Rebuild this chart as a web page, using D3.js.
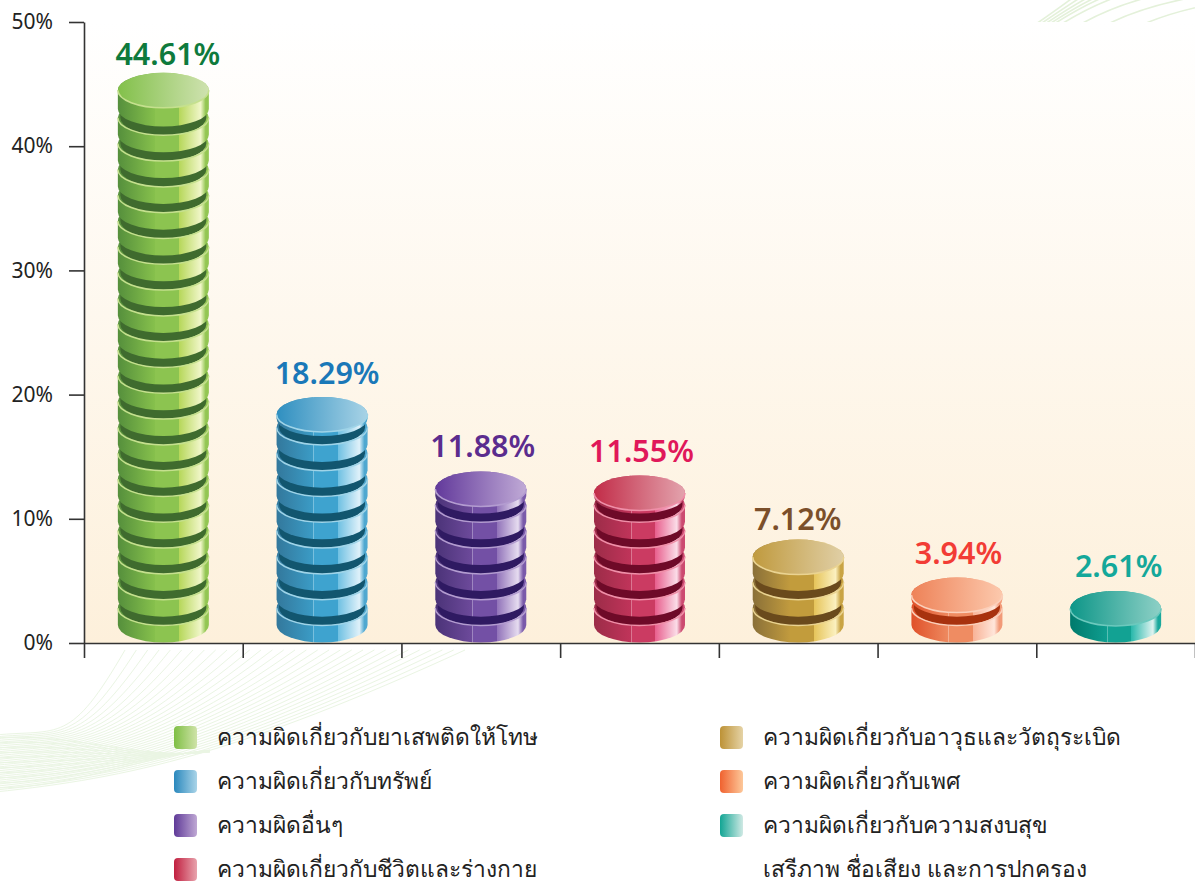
<!DOCTYPE html>
<html><head><meta charset="utf-8">
<script src="https://cdn.jsdelivr.net/npm/d3@7/dist/d3.min.js"></script>
<style>html,body{margin:0;padding:0;background:#fff;overflow:hidden}svg{display:block}
text{font-family:"Noto Sans","Open Sans",sans-serif}</style></head><body>
<svg id="c" width="1195" height="882"></svg>
<script>
// ---- data ----
const categories = ["ความผิดเกี่ยวกับยาเสพติดให้โทษ","ความผิดเกี่ยวกับทรัพย์","ความผิดอื่นๆ","ความผิดเกี่ยวกับชีวิตและร่างกาย","ความผิดเกี่ยวกับอาวุธและวัตถุระเบิด","ความผิดเกี่ยวกับเพศ","ความผิดเกี่ยวกับความสงบสุข"];
const extraLegendLine = "เสรีภาพ ชื่อเสียง และการปกครอง";
const values = [44.61,18.29,11.88,11.55,7.12,3.94,2.61];
// height of each stack's top face (the drawing is not exactly to scale)
const drawnLevels = [44.5,18.4,12.4,12.08,6.92,3.86,2.78];
const yTicks = [0,10,20,30,40,50];
const labelColors = ["#0e7a3c","#1a78b8","#5b2c8e","#e0185a","#7b4f2a","#f23c35","#14a89a"];
const topLeft = ["#82c04a","#2f8fc0","#62399b","#c22c48","#c09a3e","#ee8258","#0d9688"];
const topRight = ["#cfe2b0","#a8d3e6","#c0aad6","#e3a3ad","#e0cfa6","#fcc9ad","#8ed0c6"];
const sideDark = ["#558f3c","#33789c","#4b3378","#9c2c48","#8a7038","#e0512a","#007a6c"];
const sideMid = ["#86c04c","#3b9cc6","#6d4a9b","#c0345a","#c09a3e","#ee8a60","#0f9e90"];
const sideFlat = ["#8cc450","#3ea3cf","#7350a5","#cb3b62","#c29c3c","#ef8c62","#12a293"];
const sideStep = ["#b6d75a","#6ec0e2","#8f70b8","#e8608e","#e6c45a","#f8b296","#2bb9ac"];
const sideShine = ["#f0f6c8","#dff1fa","#e6dcf0","#fbdde8","#fbf0bf","#ffe6da","#dff3f0"];
const sideEnd = ["#93c653","#4fa8d0","#7a5aaa","#cc4a70","#c9a444","#f29a78","#1aa89c"];
const gapColors = ["#3f6b2e","#12566f","#2f1a62","#6e0a28","#6a4a1c","#a8320e","#0a6a5e"];
const rimColors = ["#c5e08e","#9fd4e8","#b39cd0","#ef8fa8","#ead391","#fbd0bb","#6cc9bd"];
const swatchLeft = ["#7fbf45","#2a88bd","#5f3a98","#c11f3f","#bd9236","#f0622f","#12a594"];
const swatchRight = ["#cfe3a8","#a9d4e8","#bfa8d4","#e8a3ad","#e5d3a6","#fdc89a","#cfe9e4"];

// ---- layout ----
const W=1195,H=882,plotL=84,plotR=1195,plotT=22,plotB=643;
const labelGaps=[8,13,14,13,10,14,14];
const labelShifts=[4.5,5,2,2,-0.5,1.5,3];
const rx=45.5, ry=17.5, coinH=17, pitch=25.8, base=642.5;

const svg=d3.select("#c");
const defs=svg.append("defs");
const y=d3.scaleLinear().domain([0,50]).range([plotB,plotT]);
const x=d3.scaleBand().domain(categories).range([plotL,plotR]);
const edge=d3.scaleLinear().domain([0,categories.length]).range([plotL,plotR]);

function grad(id,stops,vert){
  const g=defs.append("linearGradient").attr("id",id).attr("x1",0).attr("y1",0).attr("x2",vert?0:1).attr("y2",vert?1:0);
  stops.forEach(s=>g.append("stop").attr("offset",s[0]).attr("stop-color",s[1]));
}
grad("bgGrad",[[0,"#ffffff"],[1,"#fdf0db"]],true);
categories.forEach((c,i)=>{
  grad("top"+i,[[0,topLeft[i]],[1,topRight[i]]]);
  grad("sw"+i,[[0,swatchLeft[i]],[1,swatchRight[i]]]);
  const hi=d3.interpolateRgb(sideFlat[i],"#ffffff")(0.3);
  grad("side"+i,[[0,sideDark[i]],[.405,sideMid[i]],[.405,hi],[.413,hi],[.413,sideFlat[i]],[.674,sideFlat[i]],[.674,sideStep[i]],[.91,sideShine[i]],[.965,sideEnd[i]],[1,sideEnd[i]]]);
});

// decorative background waves
defs.append("clipPath").attr("id","clipLow").append("rect").attr("x",0).attr("y",645).attr("width",W).attr("height",H-645);
defs.append("clipPath").attr("id","clipTop").append("rect").attr("x",1000).attr("y",0).attr("width",195).attr("height",plotT);
const waves=svg.append("g").attr("fill","none").attr("stroke","#eaf5e3").attr("stroke-width",1);
const lowA=waves.append("g").attr("clip-path","url(#clipLow)");
d3.range(0,1.0001,1/30).forEach(t=>{
  const y0=735+57*t, bx=125+340*t;
  lowA.append("path").attr("d",`M-5,${y0} C${60+70*t},${y0-6-8*t} ${70+170*t},${745+8*t} ${bx},650`);
});
d3.range(0,1.0001,1/10).forEach(t=>{
  const y0=738+50*t;
  lowA.append("path").attr("d",`M-5,${y0} C70,${y0-6+6*t} 140,${760-3*t} 210,${752-2*t}`);
});
const topW=waves.append("g").attr("clip-path","url(#clipTop)").attr("stroke-width",1.6).attr("stroke","#e4f1da");
[0,.03,.06,.09,.12,.17,.3,.48,.72].forEach(t=>{
  topW.append("path").attr("d",`M${1036+150*t},24 Q${1062+170*t},6 ${1075+260*t},-4`);
});

// plot background
svg.append("rect").attr("x",plotL).attr("y",plotT).attr("width",plotR-plotL).attr("height",plotB-plotT).attr("fill","url(#bgGrad)");

// coin stacks
const arc=(cx,cy)=>`M${cx-rx},${cy} A${rx},${ry} 0 0 0 ${cx+rx},${cy}`;
const coinBody=(cx,yt,yb)=>`M${cx-rx},${yt} L${cx-rx},${yb} A${rx},${ry} 0 0 0 ${cx+rx},${yb} L${cx+rx},${yt} A${rx},${ry} 0 0 0 ${cx-rx},${yt}Z`;
const stacks=svg.append("g");
categories.forEach((c,i)=>{
  const g=stacks.append("g");
  const cx=x(c)+x.bandwidth()/2;
  const yTop=y(drawnLevels[i]);
  const n=Math.floor((base-(yTop+ry))/pitch);
  for(let k=0;k<=n;k++){
    const yb=base-ry-k*pitch;
    const yt=k<n?yb-coinH:yTop;
    g.append("path").attr("d",coinBody(cx,yt,yb)).attr("fill",`url(#side${i})`);
    if(k<n){
      const rr=rx-2.5, yn=yb-pitch;
      g.append("path").attr("fill",gapColors[i])
        .attr("d",`M${cx-rr},${yn} L${cx-rr},${yt} A${rr},${ry} 0 0 0 ${cx+rr},${yt} L${cx+rr},${yn}Z`);
      g.append("path").attr("d",arc(cx,yt)).attr("fill","none").attr("stroke",rimColors[i]).attr("stroke-width",1.5);
    }
  }
  g.append("ellipse").attr("cx",cx).attr("cy",yTop).attr("rx",rx).attr("ry",ry).attr("fill",`url(#top${i})`);
  g.append("path").attr("d",arc(cx,yTop)).attr("fill","none").attr("stroke",rimColors[i]).attr("stroke-width",1.6);
  svg.append("text").attr("x",cx+labelShifts[i]).attr("y",yTop-ry-labelGaps[i]).attr("text-anchor","middle")
    .attr("font-size",30.5).attr("font-weight",600).attr("fill",labelColors[i]).text(values[i].toFixed(2)+"%");
});

// axes
const yAxis=svg.append("g").attr("transform",`translate(${plotL},0)`)
  .call(d3.axisLeft(y).tickValues(yTicks).tickSize(15).tickSizeOuter(0).tickPadding(16).tickFormat(d=>d+"%"));
const xAxis=svg.append("g").attr("transform",`translate(0,${plotB})`)
  .call(d3.axisBottom(edge).ticks(categories.length).tickSize(15).tickSizeOuter(0).tickFormat(""));
[yAxis,xAxis].forEach(a=>{a.selectAll("path,line").attr("stroke","#333").attr("stroke-width",1.6);});
yAxis.selectAll("text").attr("font-size",21).attr("fill","#222").style("font-family",'"Noto Sans"');

// legend
const colX=[174,720], textDx=43, rowY=[726,770,814,858], legendSize=22.8;
const leg=svg.append("g");
categories.forEach((c,i)=>{
  const col=i<4?0:1,row=i<4?i:i-4;
  leg.append("rect").attr("x",colX[col]).attr("y",rowY[row]).attr("width",23).attr("height",23).attr("rx",4).attr("fill",`url(#sw${i})`);
  leg.append("text").attr("x",colX[col]+textDx).attr("y",rowY[row]+19).attr("font-size",legendSize).attr("fill","#222").text(c);
});
leg.append("text").attr("x",colX[1]+textDx).attr("y",rowY[3]+19).attr("font-size",legendSize).attr("fill","#222").text(extraLegendLine);
</script></body></html>
